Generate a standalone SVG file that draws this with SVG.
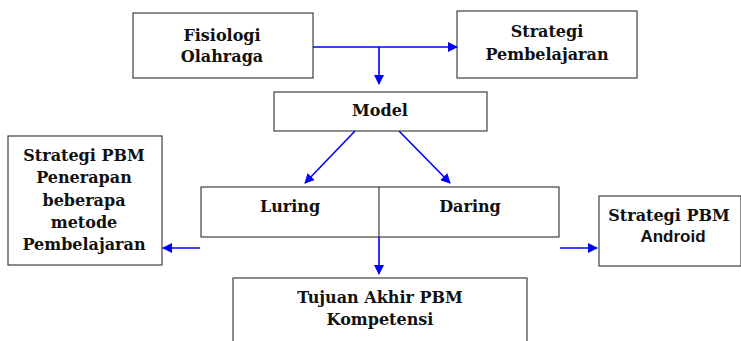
<svg xmlns="http://www.w3.org/2000/svg" width="741" height="341" viewBox="0 0 741 341">
<defs>
<marker id="ah" markerWidth="10" markerHeight="10" refX="9" refY="5" orient="auto" markerUnits="userSpaceOnUse">
<path d="M0,0 L10,5 L0,10 Z" fill="#0000FF"/>
</marker>
<style>
.box{fill:#fff;stroke:#404040;stroke-width:1.2}
.t{font-family:"DejaVu Serif","Liberation Serif",serif;font-weight:bold;font-size:16px;fill:#111;text-anchor:middle}
.s{font-family:"Liberation Sans","Open Sans",sans-serif;font-weight:bold;font-size:17px;fill:#111;text-anchor:middle}
.c{stroke:#0000FF;stroke-width:1.6;fill:none}
</style>
</defs>
<rect width="741" height="341" fill="#fff"/>
<g id="fisiologi">
<rect class="box" x="133" y="13" width="180" height="65"/>
<text class="t" x="222" y="41">Fisiologi</text>
<text class="t" x="222" y="62">Olahraga</text>
</g>
<g id="strategi-pembelajaran">
<rect class="box" x="457" y="11" width="180" height="67"/>
<text class="t" x="547" y="37">Strategi</text>
<text class="t" x="547" y="60">Pembelajaran</text>
</g>
<g id="model">
<rect class="box" x="274" y="92" width="213" height="39"/>
<text class="t" x="380" y="116">Model</text>
</g>
<g id="luring-daring">
<rect class="box" x="201" y="187" width="358" height="50"/>
<line x1="379" y1="187" x2="379" y2="237" stroke="#404040" stroke-width="1.2"/>
<text class="t" x="290" y="212">Luring</text>
<text class="t" x="470" y="212">Daring</text>
</g>
<g id="strategi-pbm-penerapan">
<rect class="box" x="8" y="136" width="154" height="129"/>
<text class="t" x="84" y="161">Strategi PBM</text>
<text class="t" x="84" y="183">Penerapan</text>
<text class="t" x="84" y="206">beberapa</text>
<text class="t" x="84" y="228">metode</text>
<text class="t" x="84" y="250">Pembelajaran</text>
</g>
<g id="strategi-pbm-android">
<rect class="box" x="599" y="196" width="142" height="70"/>
<text class="t" x="669" y="221">Strategi PBM</text>
<text class="s" x="673" y="242">Android</text>
</g>
<g id="tujuan">
<rect class="box" x="233" y="278" width="294" height="70"/>
<text class="t" x="380" y="303">Tujuan Akhir PBM</text>
<text class="t" x="380" y="325">Kompetensi</text>
</g>
<g id="connectors">
<line class="c" x1="313" y1="47" x2="457" y2="47" marker-end="url(#ah)"/>
<line class="c" x1="379" y1="47" x2="379" y2="84" marker-end="url(#ah)"/>
<line class="c" x1="355" y1="131" x2="305" y2="183" marker-end="url(#ah)"/>
<line class="c" x1="399" y1="131" x2="450" y2="183" marker-end="url(#ah)"/>
<line class="c" x1="379" y1="237" x2="379" y2="274" marker-end="url(#ah)"/>
<line class="c" x1="200" y1="248" x2="163" y2="248" marker-end="url(#ah)"/>
<line class="c" x1="560" y1="248" x2="597" y2="248" marker-end="url(#ah)"/>
</g>
</svg>
